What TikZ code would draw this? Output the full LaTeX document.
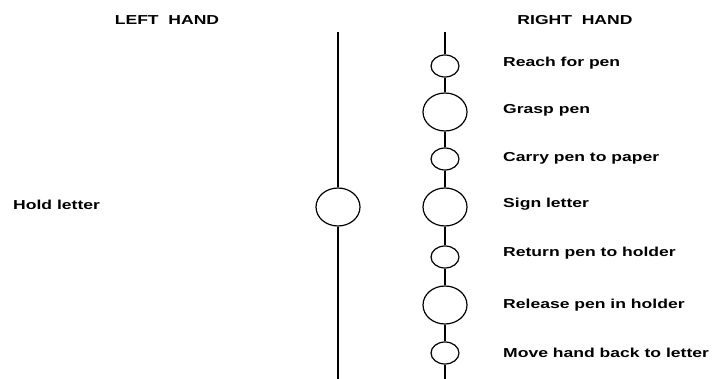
\documentclass[tikz,border=0pt]{standalone}
\usepackage{fontspec}
\setmainfont{Liberation Sans}
\newfontfamily\scanfont[FakeStretch=1.35]{Liberation Sans}
\usetikzlibrary{positioning}
\usetikzlibrary{shapes.geometric}

\begin{document}
\begin{tikzpicture}[x=1pt,y=-1pt,
        big/.style={ellipse, draw, line width=1.2pt, minimum width=44pt, minimum height=38pt, inner sep=0pt},
        small/.style={ellipse, draw, line width=1.2pt, minimum width=28pt, minimum height=22pt, inner sep=0pt},
        hand/.style={line width=1.6pt},
        action/.style={anchor=west, inner sep=0pt, font=\scanfont\fontsize{13}{15}\selectfont\bfseries},
        head/.style={inner sep=0pt, font=\scanfont\fontsize{13}{15}\selectfont\bfseries}
    ]
        \useasboundingbox (0,0) rectangle (712,379);

        \node[head] (lh) at (167,20) {LEFT\ \ HAND};
        \node[head] (rh) at (575,20) {RIGHT\ \ HAND};

        % left hand
        \coordinate (ltop) at (338,32);
        \coordinate (lbot) at (338,379);
        \node[big] (l1) at (338,207) {};
        \node[action] (hold) at (13,205) {Hold letter};

        % right hand
        \coordinate (rtop) at (445,32);
        \coordinate (rbot) at (445,379);
        \node[small] (r1) at (445,66) {};
        \node[big]   (r2) at (445,112) {};
        \node[small] (r3) at (445,159) {};
        \node[big]   (r4) at (445,207) {};
        \node[small] (r5) at (445,257) {};
        \node[big]   (r6) at (445,305) {};
        \node[small] (r7) at (445,353) {};

        \node[action] (a1) at (503,63) {Reach for pen};
        \node[action] (a2) at (503,110) {Grasp pen};
        \node[action] (a3) at (503,158) {Carry pen to paper};
        \node[action] (a4) at (503,204) {Sign letter};
        \node[action] (a5) at (503,253) {Return pen to holder};
        \node[action] (a6) at (503,305) {Release pen in holder};
        \node[action] (a7) at (503,353) {Move hand back to letter};

        \draw[hand] (ltop) -- (l1);
        \draw[hand] (l1) -- (lbot);

        \draw[hand] (rtop) -- (r1);
        \draw[hand] (r1) -- (r2);
        \draw[hand] (r2) -- (r3);
        \draw[hand] (r3) -- (r4);
        \draw[hand] (r4) -- (r5);
        \draw[hand] (r5) -- (r6);
        \draw[hand] (r6) -- (r7);
        \draw[hand] (r7) -- (rbot);
    \end{tikzpicture}
\end{document}
